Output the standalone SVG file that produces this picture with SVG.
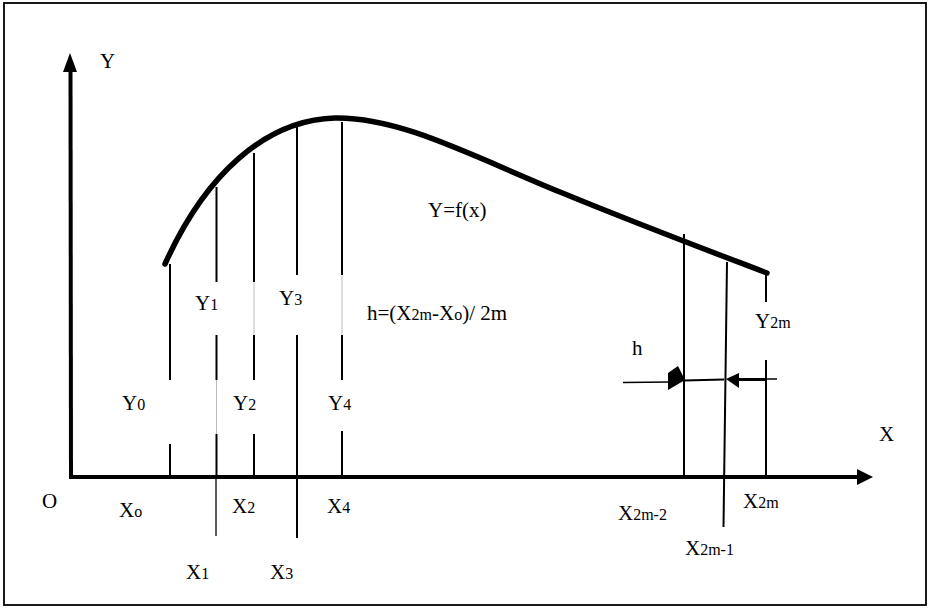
<svg xmlns="http://www.w3.org/2000/svg" width="930" height="608" viewBox="0 0 930 608">
<style>
text{font-family:'Liberation Serif','DejaVu Serif',serif;font-size:21px;fill:#000}
.s{font-size:16px}
.v{stroke:#000;stroke-width:2;fill:none}
.t{stroke:#000;stroke-width:1.3;fill:none}
.g{stroke:#aaa;stroke-width:0.8;fill:none}
.ax{stroke:#000;stroke-width:4;fill:none}
</style>
<rect x="4" y="3" width="922" height="602" fill="#fff" stroke="#000" stroke-width="1.8"/>
<g id="axes">
<line class="ax" x1="71" y1="477" x2="70.5" y2="70" stroke-width="3.5"/>
<polygon points="70,53 63,72 77,72" fill="#000"/>
<line class="ax" x1="69" y1="477" x2="858" y2="477"/>
<polygon points="873,477 857,469 857,485" fill="#000"/>
</g>
<g id="curve">
<path d="M165,264 C205,175 265,120 335,118 C400,117 470,155 560,192 C640,225 720,255 767,273" fill="none" stroke="#000" stroke-width="5.5" stroke-linecap="round"/>
</g>
<g id="ordinates">
<line class="v" x1="170" y1="264" x2="170" y2="380"/>
<line class="v" x1="170" y1="444" x2="170" y2="477"/>
<line class="v" x1="216.5" y1="187" x2="216.5" y2="282"/>
<line class="v" x1="216.5" y1="335" x2="216.5" y2="380"/>
<line class="g" x1="216.5" y1="380" x2="216.5" y2="434"/>
<line class="v" x1="216.5" y1="434" x2="216.5" y2="477"/>
<line class="t" x1="216" y1="477" x2="216" y2="536"/>
<line class="v" x1="254" y1="153" x2="254" y2="282"/>
<line class="g" x1="254" y1="282" x2="254" y2="335"/>
<line class="v" x1="254" y1="335" x2="254" y2="380"/>
<line class="v" x1="254" y1="434" x2="254" y2="477"/>
<line class="v" x1="297" y1="127" x2="297" y2="275"/>
<line class="v" x1="297" y1="335" x2="297" y2="477"/>
<line class="v" x1="297" y1="477" x2="297" y2="538" stroke-width="1.6"/>
<line class="v" x1="342" y1="122" x2="342" y2="275"/>
<line class="g" x1="342" y1="275" x2="342" y2="335"/>
<line class="v" x1="342" y1="335" x2="342" y2="380"/>
<line class="v" x1="342" y1="431" x2="342" y2="477"/>
<line class="v" x1="684" y1="234" x2="684" y2="477"/>
<line class="v" x1="727" y1="262" x2="723.5" y2="527"/>
<line class="v" x1="766" y1="273" x2="766" y2="302"/>
<line class="v" x1="766" y1="360" x2="766" y2="477"/>
</g>
<g id="h-arrows">
<line x1="623" y1="382.5" x2="670" y2="382" stroke="#000" stroke-width="1.5"/>
<polygon points="668,373 678,366 685,380 668,390" fill="#000"/>
<line x1="684" y1="380.5" x2="724" y2="379.5" stroke="#000" stroke-width="2"/>
<polygon points="726,379 739,373 739,388" fill="#000"/>
<line x1="738" y1="379.5" x2="767" y2="379.5" stroke="#000" stroke-width="3"/>
<line x1="766" y1="379" x2="777" y2="379" stroke="#000" stroke-width="1.5"/>
</g>
<g id="labels" font-family="'Liberation Serif', serif">
<text x="100" y="68">Y</text>
<text x="879" y="441">X</text>
<text x="42" y="508">O</text>
<text x="428" y="217">Y=f(x)</text>
<text x="367" y="320">h=(X<tspan class="s">2m</tspan>-X<tspan class="s">o</tspan>)/ 2m</text>
<text x="632" y="355">h</text>
<text x="122" y="410">Y<tspan class="s">0</tspan></text>
<text x="195" y="310">Y<tspan class="s">1</tspan></text>
<text x="233" y="410">Y<tspan class="s">2</tspan></text>
<text x="279" y="305">Y<tspan class="s">3</tspan></text>
<text x="328" y="410">Y<tspan class="s">4</tspan></text>
<text x="755" y="328">Y<tspan class="s">2m</tspan></text>
<text x="119" y="517">X<tspan class="s">o</tspan></text>
<text x="186" y="579">X<tspan class="s">1</tspan></text>
<text x="232" y="513">X<tspan class="s">2</tspan></text>
<text x="270" y="579">X<tspan class="s">3</tspan></text>
<text x="327" y="513">X<tspan class="s">4</tspan></text>
<text x="618" y="520">X<tspan class="s">2m-2</tspan></text>
<text x="685" y="555">X<tspan class="s">2m-1</tspan></text>
<text x="743" y="508">X<tspan class="s">2m</tspan></text>
</g>
</svg>
